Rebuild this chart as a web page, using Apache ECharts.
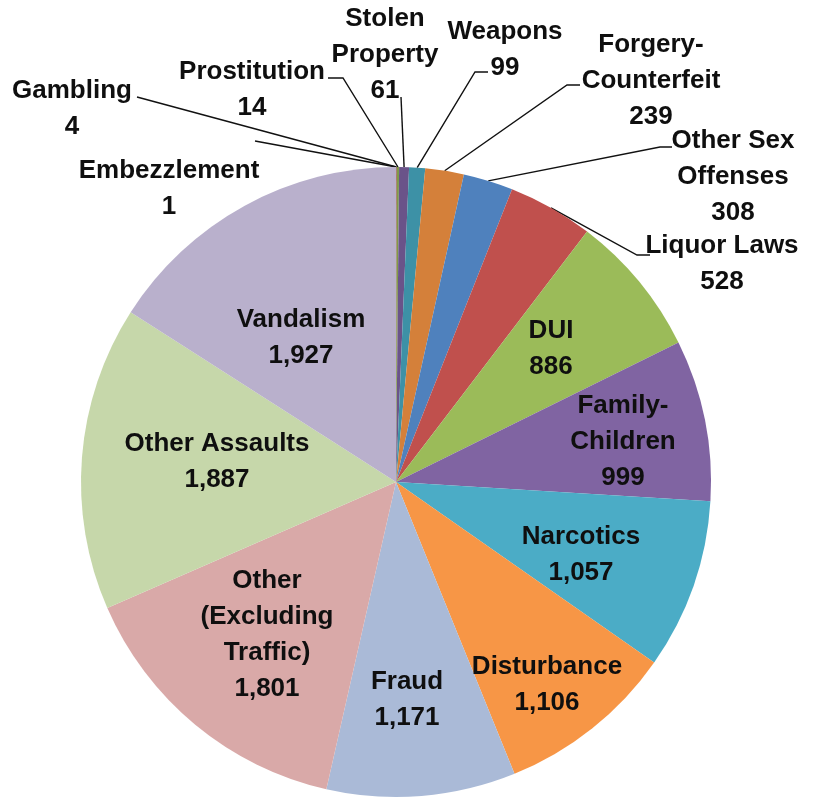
<!DOCTYPE html>
<html>
<head>
<meta charset="utf-8">
<script src="https://cdn.jsdelivr.net/npm/echarts@6.0.0/dist/echarts.min.js"></script>
<style>
html,body{margin:0;padding:0;background:#fff;}
#chart{width:814px;height:800px;}
</style>
</head>
<body>
<div id="chart"></div>
<script>
// Data
var categories = ["Embezzlement", "Gambling", "Prostitution", "Stolen\nProperty", "Weapons",
  "Forgery-\nCounterfeit", "Other Sex\nOffenses", "Liquor Laws", "DUI", "Family-\nChildren",
  "Narcotics", "Disturbance", "Fraud", "Other\n(Excluding\nTraffic)", "Other Assaults", "Vandalism"];
var values = [1, 4, 14, 61, 99, 239, 308, 528, 886, 999, 1057, 1106, 1171, 1801, 1887, 1927];

// Styles / layout (kept apart from data)
var colors = ["#3F6A9E", "#9E413E", "#7F9A48", "#6A5389", "#3D91A6", "#D4803A",
  "#4F81BD", "#C0504D", "#9BBB59", "#8064A2", "#4BACC6", "#F79646",
  "#AABAD7", "#D9A9A8", "#C6D7AA", "#B9B0CC"];
var outsideLabel = [true, true, true, true, true, true, true, true,
  false, false, false, false, false, false, false, false];
var labelCenters = [[169, 189], [72, 109], [252, 90], [385, 55], [505, 50], [651, 81],
  [733, 177], [722, 264], [551, 349], [623, 442], [581, 555], [547, 685],
  [407, 700], [267, 635], [217, 462], [301, 338]];
// leader line: [label end x, y, bend x, y] (slice end comes from the pie layout)
var leaderEnds = [[255, 141, 255, 141], [137, 97, 137, 97], [328, 78, 343, 78],
  [401, 97, 401, 97], [488, 72, 475, 72], [580, 85, 567, 85],
  [672, 147, 660, 147], [650, 255, 637, 255]];

var data = categories.map(function (name, i) {
  return {
    name: name,
    value: values[i],
    itemStyle: { color: colors[i] },
    label: { position: outsideLabel[i] ? 'outside' : 'inside' },
    labelLine: { show: outsideLabel[i] }
  };
});

var chart = echarts.init(document.getElementById('chart'), null, { renderer: 'canvas' });
chart.setOption({
  animation: false,
  backgroundColor: '#ffffff',
  series: [{
    type: 'pie',
    center: [396, 482],
    radius: [0, 315],
    startAngle: 90,
    clockwise: true,
    avoidLabelOverlap: false,
    silent: true,
    data: data,
    itemStyle: { borderWidth: 0 },
    label: {
      show: true,
      formatter: function (p) {
        return p.name + '\n' + p.value.toLocaleString('en-US');
      },
      fontFamily: 'Liberation Sans',
      fontWeight: 'bold',
      fontSize: 26,
      lineHeight: 36,
      color: '#0f0f0f',
      align: 'center',
      textBorderWidth: 0
    },
    labelLine: {
      length: 15,
      length2: 12,
      lineStyle: { color: '#111', width: 1.4 }
    },
    labelLayout: function (params) {
      var i = params.dataIndex;
      var c = labelCenters[i];
      var out = { x: c[0], y: c[1], align: 'center', verticalAlign: 'middle' };
      var pts = params.labelLinePoints;
      if (outsideLabel[i] && pts && pts[0]) {
        var e = leaderEnds[i];
        out.labelLinePoints = [[pts[0][0], pts[0][1]], [e[2], e[3]], [e[0], e[1]]];
      }
      return out;
    },
    emphasis: { disabled: true }
  }]
});
</script>
</body>
</html>
